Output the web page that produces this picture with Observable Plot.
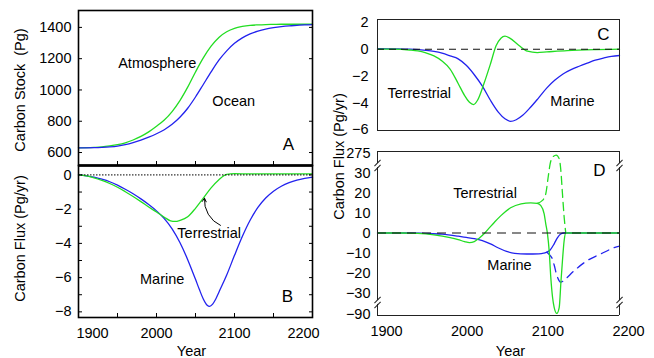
<!DOCTYPE html>
<html><head><meta charset="utf-8">
<script src="https://cdn.jsdelivr.net/npm/d3@7"></script>
<script src="https://cdn.jsdelivr.net/npm/@observablehq/plot@0.6"></script>
<style>
body{margin:0;background:#fff;}
#chart{position:relative;width:654px;height:358px;}
#chart svg{position:absolute;left:0;top:0;}
</style></head><body><div id="chart"></div>
<script>
// ---------- data ----------
const yearsA = [1900,1910,1920,1930,1940,1950,1960,1970,1980,1990,2000,2010,2020,2030,2040,2050,2060,2070,2080,2090,2100,2110,2120,2130,2140,2150,2160,2170,2180,2190,2200];
const atmosphere = [630,631,633,636,642,650,662,680,703,732,768,808,862,932,1018,1115,1205,1280,1336,1372,1394,1406,1413,1416,1418,1419,1420,1420,1420,1420,1420];
const ocean = [630,630,631,633,636,641,650,663,679,698,720,746,780,825,883,955,1035,1115,1190,1250,1298,1333,1358,1376,1389,1398,1405,1410,1413,1416,1418];

const yearsMarineB = [1900,1910,1920,1930,1940,1950,1960,1970,1980,1990,2000,2010,2020,2030,2040,2050,2055,2060,2065,2068,2072,2076,2080,2090,2100,2110,2120,2130,2140,2150,2160,2170,2180,2190,2200];
const marineB = [0,-0.05,-0.13,-0.25,-0.4,-0.6,-0.84,-1.1,-1.4,-1.73,-2.1,-2.55,-3.15,-3.95,-4.95,-6.1,-6.7,-7.25,-7.62,-7.68,-7.55,-7.25,-6.85,-5.85,-4.7,-3.6,-2.65,-1.9,-1.35,-0.95,-0.66,-0.45,-0.3,-0.2,-0.13];
const yearsTerrB = [1900,1910,1920,1930,1940,1950,1960,1970,1980,1990,2000,2010,2018,2024,2030,2040,2050,2060,2070,2080,2090,2100,2120,2150,2200];
const terrestrialB = [0,-0.06,-0.17,-0.32,-0.5,-0.72,-0.98,-1.26,-1.56,-1.87,-2.17,-2.47,-2.68,-2.72,-2.66,-2.45,-1.95,-1.36,-0.76,-0.28,0.03,0.07,0.06,0.06,0.06];

const yearsMarineC = [1900,1920,1940,1960,1970,1980,1990,2000,2010,2020,2030,2040,2050,2058,2065,2072,2080,2090,2100,2110,2120,2130,2140,2150,2160,2170,2180,2190,2200];
const marineC = [0.05,0.03,0,-0.09,-0.17,-0.3,-0.5,-0.72,-1.2,-1.9,-2.75,-3.8,-4.7,-5.18,-5.37,-5.25,-4.92,-4.3,-3.6,-2.88,-2.3,-1.84,-1.52,-1.27,-1.04,-0.82,-0.66,-0.53,-0.47];
const yearsTerrC = [1900,1920,1940,1950,1960,1970,1980,1990,2000,2008,2014,2019,2024,2032,2040,2047,2053,2058,2064,2075,2086,2098,2110,2135,2170,2200];
const terrestrialC = [0,0,-0.06,-0.13,-0.28,-0.5,-0.88,-1.48,-2.55,-3.45,-3.95,-4.12,-3.8,-2.55,-1.1,0.25,0.82,0.97,0.82,0.3,-0.15,-0.25,-0.2,-0.1,-0.03,0];

const yearsTerrD = [1900,1930,1950,1970,1990,2000,2008,2014,2020,2026,2033,2040,2045,2053,2065,2078,2090,2098,2102.5,2106.6,2108.6,2110.7,2112.8,2114.8,2117,2119,2122.3,2125.3,2127.3,2129.3,2131.4,2133.4,2150,2200];
const terrestrialD = [0,0,-0.2,-0.9,-2.3,-3.3,-4.3,-4.8,-4.3,-2.6,0,3.2,5.4,8.7,12.6,14.6,15.1,14.8,13.7,9.6,4.6,-0.4,-8.75,-22,-42,-70,-87,-70,-25,-13.75,-3.75,0,0,0];
const yearsTerrDashD = [2098,2104.5,2108.6,2111.6,2114,2117,2121.5,2125.3,2127.3,2129.3,2131.4,2133.4];
const terrestrialDashD = [14.8,16.3,19.6,28,145,228,255,208,61,19.6,7.9,0];
const yearsMarineD = [1900,1940,1960,1980,2000,2010,2020,2030,2040,2050,2060,2070,2085,2100,2106,2110,2114,2119,2123,2127,2131,2200];
const marineD = [0,0,-0.2,-0.6,-1.6,-2.2,-2.8,-3.8,-5.4,-7.5,-9.2,-10.2,-10.5,-10.4,-10.1,-9.6,-8.5,-5.4,-2.4,-0.5,0,0];
const yearsMarineDashD = [2110,2116,2119,2123,2127,2133,2144,2160,2177,2193,2200];
const marineDashD = [-9.6,-12.3,-16,-22,-24.6,-23,-18.8,-13.8,-10.4,-7.4,-6.6];

// tick values
const ticksA = [600,800,1000,1200,1400];
const ticksBLabel = [0,-2,-4,-6,-8];
const ticksBAll = [0,-1,-2,-3,-4,-5,-6,-7,-8];
const ticksC = [2,0,-2,-4,-6];
const ticksD = [275,30,20,10,0,-10,-20,-30,-90];
const xMinor = [1950,2000,2050,2100,2150];
const xMid = [2000,2100];
const xLabelsD = [1900,2000,2100,2200];

// annotations
const labelsA = [{label:"Atmosphere", year:2001, value:1169}, {label:"Ocean", year:2099, value:926}];
const labelsB = [{label:"Terrestrial", year:2067.5, value:-3.4}, {label:"Marine", year:2007.3, value:-6.13}];
const arrowB = [{x1:2082, y1:-2.95, x2:2061.5, y2:-1.36}];
const labelsC = [{label:"Terrestrial", year:1951.7, value:-3.25}, {label:"Marine", year:2141.7, value:-3.85}];
const labelsD = [{label:"Terrestrial", year:2033.3, value:19.9}, {label:"Marine", year:2063.6, value:-16.25}];

// scale domains
const xDomain = [1900, 2200];
const yDomainA = [517, 1508];
const yDomainB = [-8.33, 0.55];
const yDomainC = [-6.05, 2.21];
const yDomainD = [-93, 300];            // broken axis: compressed above 30 and below -30
const breaksD = [124, -56.6];
const sidesD = [[-93, -62], [-51, 99], [149, 300]];

// ---------- drawing ----------
const W = 654, H = 358;
const FONT = '"Liberation Sans", Arial, Helvetica, sans-serif';
const GREEN = "#22dd22", BLUE = "#2222ee";
const FS = 14.5;
const rows = (ys, vs) => ys.map((year, i) => ({year, value: vs[i]}));
const fmt = d => d < 0 ? "\u2212" + Math.abs(d) : String(d);
const style = {background: "transparent", fontFamily: FONT, fontSize: FS + "px", color: "black"};
const lineOpts = (stroke, extra = {}) => ({x: "year", y: "value", stroke, strokeWidth: 1.3, curve: "monotone-x", ...extra});
const centered = {textAnchor: "middle", lineAnchor: "middle"};
const slash = {draw(context, l) { context.moveTo(0, 0); context.lineTo(0, -l); }};
const breakAxis = v => v > 30 ? 30 + (v - 30) * (10.75 / 270) : v < -30 ? -30 + (v + 30) * (11.25 / 63) : v;
const chart = document.getElementById("chart");

// Panel A
chart.appendChild(Plot.plot({
  width: W, height: H, marginLeft: 78, marginRight: W - 312, marginTop: 10, marginBottom: H - 165,
  style,
  x: {domain: xDomain, axis: null},
  y: {domain: yDomainA, axis: null},
  marks: [
    Plot.line(rows(yearsA, atmosphere), lineOpts(GREEN)),
    Plot.line(rows(yearsA, ocean), lineOpts(BLUE)),
    Plot.text(labelsA, {x: "year", y: "value", text: "label", fontSize: FS, ...centered}),
    Plot.text(["A"], {frameAnchor: "bottom-right", dx: -24, dy: -21, fontSize: 17, ...centered}),
    Plot.axisY(ticksA, {anchor: "left", tickSize: 0, tickPadding: 7, tickFormat: fmt, label: null, fontSize: FS}),
    Plot.axisY(ticksA, {anchor: "left", tickSize: -4, fill: "none", label: null}),
    Plot.axisY(ticksA, {anchor: "right", tickSize: -4, fill: "none", label: null}),
    Plot.axisX(xMinor, {anchor: "bottom", tickSize: -4, fill: "none", label: null}),
    Plot.text(["Carbon Stock  (Pg)"], {frameAnchor: "left", rotate: -90, dx: -58, dy: 2, fontSize: FS, ...centered}),
    Plot.frame({stroke: "black", strokeWidth: 1.6})
  ]
}));

// Panel B
chart.appendChild(Plot.plot({
  width: W, height: H, marginLeft: 78, marginRight: W - 312, marginTop: 165, marginBottom: H - 317,
  style,
  x: {domain: xDomain, axis: null},
  y: {domain: yDomainB, axis: null},
  marks: [
    Plot.line(rows(yearsMarineB, marineB), lineOpts(BLUE)),
    Plot.line(rows(yearsTerrB, terrestrialB), lineOpts(GREEN)),
    Plot.ruleY([0], {stroke: "black", strokeWidth: 1, strokeDasharray: "1.5,1.5"}),
    Plot.text(labelsB, {x: "year", y: "value", text: "label", fontSize: FS, ...centered}),
    Plot.arrow(arrowB, {x1: "x1", y1: "y1", x2: "x2", y2: "y2", bend: 35, headLength: 6, stroke: "black", strokeWidth: 1}),
    Plot.text(["B"], {frameAnchor: "bottom-right", dx: -25, dy: -21, fontSize: 17, ...centered}),
    Plot.axisY(ticksBLabel, {anchor: "left", tickSize: 0, tickPadding: 7, tickFormat: fmt, label: null, fontSize: FS}),
    Plot.axisY(ticksBAll, {anchor: "left", tickSize: -4, fill: "none", label: null}),
    Plot.axisY(ticksBAll, {anchor: "right", tickSize: -4, fill: "none", label: null}),
    Plot.axisX(xMinor, {anchor: "bottom", tickSize: -4, fill: "none", label: null}),
    Plot.axisX(xMid, {anchor: "bottom", tickSize: 0, tickPadding: 10.5, tickFormat: "d", label: null, fontSize: FS}),
    Plot.axisX([xDomain[0]], {anchor: "bottom", tickSize: 0, tickPadding: 10.5, tickFormat: "d", label: null, dx: 14, fontSize: FS}),
    Plot.axisX([xDomain[1]], {anchor: "bottom", tickSize: 0, tickPadding: 10.5, tickFormat: "d", label: null, dx: -9, fontSize: FS}),
    Plot.text(["Year"], {frameAnchor: "bottom", dx: -4, dy: 34, fontSize: FS, ...centered}),
    Plot.text(["Carbon Flux (Pg/yr)"], {frameAnchor: "left", rotate: -90, dx: -58, dy: -3, fontSize: FS, ...centered}),
    Plot.frame({stroke: "black", strokeWidth: 1.6}),
    Plot.ruleY([yDomainB[1]], {stroke: "black", strokeWidth: 2.6})
  ]
}));

// Panel C
chart.appendChild(Plot.plot({
  width: W, height: H, marginLeft: 377, marginRight: W - 619, marginTop: 19, marginBottom: H - 130,
  style,
  x: {domain: xDomain, axis: null},
  y: {domain: yDomainC, axis: null},
  marks: [
    Plot.line(rows(yearsMarineC, marineC), lineOpts(BLUE)),
    Plot.line(rows(yearsTerrC, terrestrialC), lineOpts(GREEN)),
    Plot.ruleY([0], {stroke: "#111", strokeWidth: 1.1, strokeDasharray: "7,5"}),
    Plot.text(labelsC, {x: "year", y: "value", text: "label", fontSize: FS, ...centered}),
    Plot.text(["C"], {frameAnchor: "top-right", dx: -16, dy: 15.5, fontSize: 17, ...centered}),
    Plot.axisY(ticksC, {anchor: "left", tickSize: 0, tickPadding: 9, tickFormat: fmt, label: null, fontSize: FS}),
    Plot.frame({stroke: "#222", strokeWidth: 1})
  ]
}));

// Panel D (broken y axis through a scale transform)
chart.appendChild(Plot.plot({
  width: W, height: H, marginLeft: 377, marginRight: W - 619, marginTop: 151, marginBottom: H - 315,
  style,
  x: {domain: xDomain, axis: null},
  y: {transform: breakAxis, domain: yDomainD.map(breakAxis), axis: null},
  marks: [
    Plot.line(rows(yearsMarineDashD, marineDashD), lineOpts(BLUE, {strokeDasharray: "8,6", curve: "catmull-rom"})),
    Plot.line(rows(yearsTerrDashD, terrestrialDashD), lineOpts(GREEN, {strokeDasharray: "8,5"})),
    Plot.line(rows(yearsMarineD, marineD), lineOpts(BLUE)),
    Plot.line(rows(yearsTerrD, terrestrialD), lineOpts(GREEN)),
    Plot.ruleY([0], {stroke: "#111", strokeWidth: 1.1, strokeDasharray: "9,6"}),
    Plot.text(labelsD, {x: "year", y: "value", text: "label", fontSize: FS, ...centered}),
    Plot.text(["D"], {frameAnchor: "top-right", dx: -20, dy: 18.7, fontSize: 17, ...centered}),
    Plot.axisY(ticksD, {anchor: "left", tickSize: 0, tickPadding: 7, tickFormat: fmt, label: null, fontSize: FS}),
    Plot.axisX(xLabelsD, {anchor: "bottom", tickSize: 0, tickPadding: 10, tickFormat: "d", label: null, dx: 9, fontSize: FS}),
    Plot.text(["Year"], {frameAnchor: "bottom", dx: 12, dy: 36, fontSize: FS, ...centered}),
    Plot.text(["Carbon Flux (Pg/yr)"], {frameAnchor: "left", rotate: -90, dx: -38, dy: -77, fontSize: FS, ...centered}),
    Plot.ruleY(yDomainD, {stroke: "#222", strokeWidth: 1}),
    Plot.ruleX(xDomain.flatMap(x => sidesD.map(([y1, y2]) => ({x, y1, y2}))), {x: "x", y1: "y1", y2: "y2", stroke: "#222", strokeWidth: 1}),
    Plot.vector(xDomain.flatMap(x => breaksD.map(y => ({x, y}))), {x: "x", y: "y", length: 8, rotate: 45, anchor: "middle", shape: slash, dy: -2.5, stroke: "#222", strokeWidth: 1}),
    Plot.vector(xDomain.flatMap(x => breaksD.map(y => ({x, y}))), {x: "x", y: "y", length: 8, rotate: 45, anchor: "middle", shape: slash, dy: 2.5, stroke: "#222", strokeWidth: 1})
  ]
}));
</script></body></html>
